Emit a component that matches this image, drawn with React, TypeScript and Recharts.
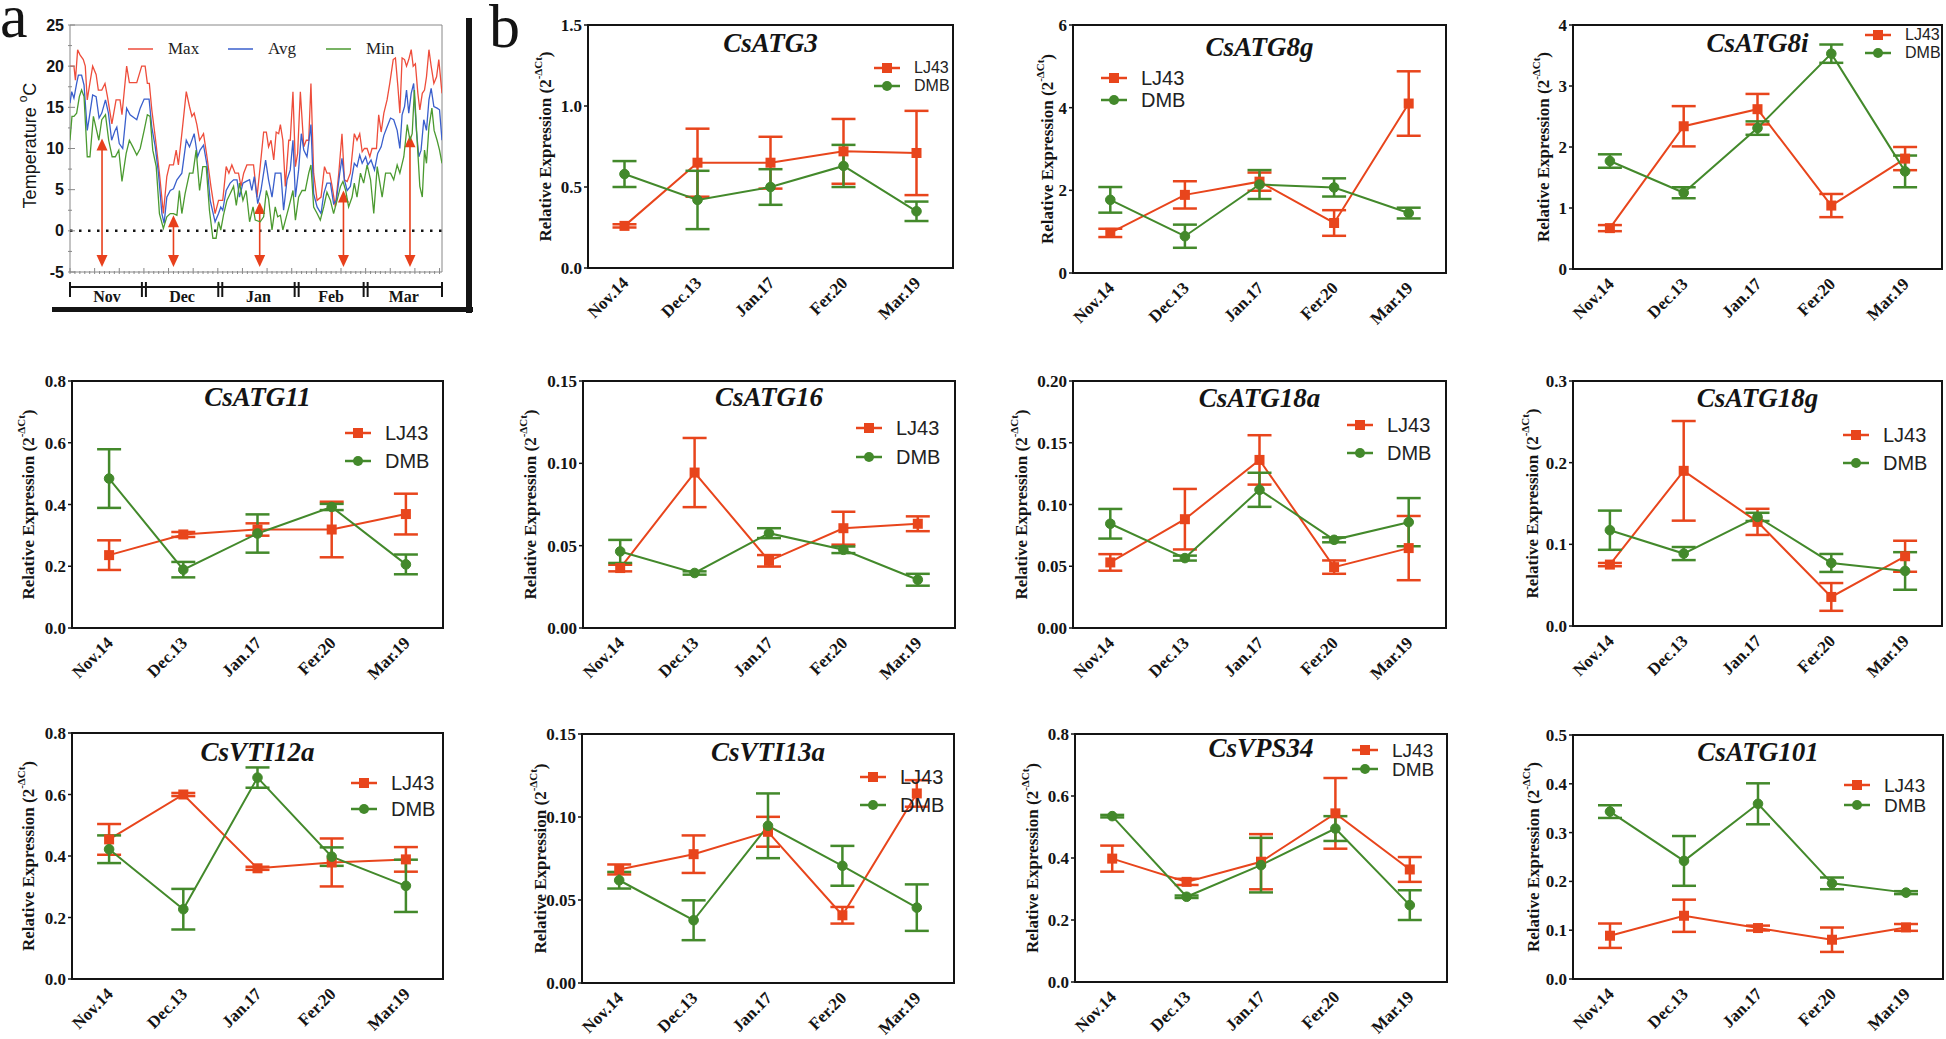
import React from "react";
import {
  LineChart,
  Line,
  XAxis,
  YAxis,
  ErrorBar,
  ReferenceArea,
  ReferenceLine,
  Legend,
} from "recharts";

const SERIF = '"Liberation Serif", "Times New Roman", serif';
const SANS = '"Liberation Sans", Arial, sans-serif';
const INK = "#141414";
const RED = "#e8451c";
const GREEN = "#43892b";
const MAX_C = "#ee4d3b";
const AVG_C = "#3a5fcc";
const MIN_C = "#4b9a30";

// ---------- panel a: daily temperature, day 0 = Nov 1 ----------
const MONTHS = ["Nov", "Dec", "Jan", "Feb", "Mar"];
const MONTH_EDGES = [0, 30, 61, 92, 120, 151];
const MONTH_MIDS = [15, 45.5, 76.5, 106, 135.5];
const TEMP_TICKS = [-5, -2.5, 0, 2.5, 5, 7.5, 10, 12.5, 15, 17.5, 20, 22.5, 25];
const SAMPLE_DAYS = [13, 42, 77, 111, 138];
const SAMPLE_TOPS = [11.2, 1.9, 3.5, 4.9, 11.6];
const SAMPLE_FLOOR = -4.4;

const MAX_T: [number, number][] = [
  [0, 20], [1.6, 20], [2.2, 18.3], [3.1, 22], [4, 21.4], [5.4, 20.8], [6.2, 20], [7, 15.9], [8.1, 18], [9.2, 20],
  [10.6, 19], [11.5, 17.1], [12.9, 17.1], [14.2, 17.9], [15.2, 16.3], [17, 13], [18.7, 15.9], [20.3, 15.9], [21.1, 14.1],
  [23, 20], [24.1, 18], [27.1, 18], [29.1, 20], [30.5, 20], [31.4, 17.9], [32.2, 17.9], [33.2, 14.7], [34.6, 11.4],
  [36.3, 7], [37.9, 2.1], [39.3, 6.6], [40.4, 8], [42, 8], [43.1, 9.8], [44, 8], [45.4, 11.8], [47.2, 16.9], [48.5, 15.1],
  [49.5, 13.9], [50.4, 14.3], [51.5, 12.9], [52.6, 11], [54.2, 11.8], [55.6, 9], [57.2, 5.4], [58.9, 2.1], [60.3, 3.7],
  [62, 3.7], [63.4, 7.8], [64.5, 7], [65.7, 8], [67, 7], [68.4, 7], [69.4, 5.4], [70.5, 7], [71.8, 8], [74.5, 8],
  [75.9, 4.1], [77.2, 7.8], [78.6, 12], [79.7, 12], [80.6, 10.2], [81.6, 11], [82.7, 8.6], [83.7, 12], [84.7, 11.8],
  [85.4, 12.9], [86.4, 11], [87.4, 5.4], [88.8, 11], [89.4, 11], [90.5, 16.9], [91.5, 7.8], [92.4, 9.4], [93.5, 16.9],
  [94.9, 10.2], [95.9, 11], [96.9, 11], [97.8, 17.9], [98.9, 7], [100.3, 3.7], [101.9, 4.1], [103.3, 7.8], [104.3, 7],
  [105.4, 7], [106.4, 5.4], [107.7, 2.9], [109.1, 7], [110.4, 11.8], [111.4, 6.2], [112.5, 6], [113.8, 7], [115.4, 11.8],
  [116.5, 11], [117.6, 11.8], [118.6, 9.6], [119.5, 10], [120.6, 10], [121.7, 9], [122.6, 10], [124.4, 10], [125.3, 14.1],
  [126.3, 12], [127.4, 14.3], [128.7, 15.9], [129.8, 17.9], [131.2, 20.8], [132.1, 21], [133.1, 17.5], [133.9, 14.3],
  [134.8, 21], [135.8, 20.8], [136.6, 20], [137.5, 20.8], [138.5, 22], [139.3, 20], [140.2, 20.3], [141.2, 16.7],
  [142, 14.7], [143, 16.7], [143.9, 17.1], [144.7, 18.7], [145.7, 22], [146.6, 20], [147.7, 17.9], [148.8, 18.7],
  [149.7, 20.8], [151, 16.7],
];

const AVG_T: [number, number][] = [
  [0, 15.5], [0.7, 16.9], [1.6, 16.1], [2.7, 17.9], [3.4, 18.9], [4.7, 18.9], [5.7, 17.7], [7, 12.2], [7.9, 13.9],
  [9.2, 16.5], [10.6, 16.3], [11.8, 13.7], [12.9, 14.3], [14.4, 15.9], [15.6, 14.3], [16.9, 11], [18.3, 12.2], [19, 12.6],
  [20, 10.6], [21.4, 10], [23, 14.9], [24.4, 14.1], [27.1, 13.5], [28.5, 14.9], [30.1, 16], [32.1, 16], [33.2, 12.6],
  [34.6, 10.2], [35.9, 7], [37.3, 2.1], [38.2, 0.9], [39.3, 4.1], [40.7, 4.9], [42, 5.1], [43.4, 6.2], [45.4, 7],
  [47.2, 11], [48.5, 10.2], [50.4, 11.8], [51.8, 9], [52.8, 9.8], [54.2, 10.4], [55.6, 8], [56.9, 3.7], [58.9, 1.1],
  [60.3, 2.1], [61.2, 2.9], [62, 2.5], [63.4, 4.9], [65, 5.8], [66.4, 6.2], [67.8, 6.2], [68.8, 4.1], [70.2, 5.8],
  [71.5, 6], [72.9, 6.2], [73.8, 4.9], [74.8, 6.6], [76.2, 3.3], [77.5, 4.9], [79.4, 8.6], [80.6, 6.2], [82, 4.1],
  [83.3, 7], [84.7, 7], [85.6, 7], [86.7, 2.5], [88.1, 6.2], [89.4, 7.4], [90.5, 11], [91.5, 4.1], [92.8, 7.4],
  [93.9, 11.8], [94.9, 9.8], [96.2, 9], [97.8, 12.9], [98.9, 4.5], [100.3, 2.9], [101.9, 2.1], [103, 4.5], [104.3, 5.8],
  [105.7, 5.8], [107, 3.3], [108.1, 3.7], [109.5, 7], [110.4, 8.8], [111.4, 6.2], [112.5, 4.9], [113.8, 5.4],
  [115.4, 8.2], [116.5, 7.8], [117.6, 9.2], [118.6, 8.2], [120, 9], [120.9, 8], [122.2, 8.6], [123.6, 7.4], [124.9, 9.4],
  [126.3, 10.2], [127.4, 11.6], [128.7, 12.6], [130.1, 13.7], [131.4, 13.5], [132.8, 12.2], [133.9, 10], [134.8, 14.1],
  [135.8, 15.1], [136.6, 17.1], [137.5, 14.3], [138.5, 16.7], [139.5, 17.9], [140.6, 12.2], [141.6, 9], [142.5, 9.8],
  [143.6, 13.5], [144.7, 12.2], [145.7, 15.9], [146.6, 17.3], [147.7, 15.1], [149, 14.9], [150, 14.7], [151, 11],
];

const MIN_T: [number, number][] = [
  [0, 11], [0.8, 13.9], [1.6, 13.9], [2.7, 14.3], [3.8, 16.3], [4.7, 17.1], [5.7, 16.3], [7, 9], [8.1, 9], [9.5, 13.9],
  [10.8, 12.2], [11.7, 11], [12.9, 13.5], [14.4, 14.1], [15.7, 11], [17.1, 9], [18.4, 9], [19.8, 9.8], [21.1, 6],
  [22.8, 9.4], [24.1, 11], [25.5, 10.2], [27.1, 9.2], [28.5, 10], [30.1, 12.2], [31.4, 14.1], [32.5, 13.9], [33.6, 9.8],
  [35, 7.8], [36.3, 2.1], [37.9, 0.3], [39.3, 1.7], [40.7, 2.1], [42, 2.1], [43.4, 1.9], [44.4, 4.9], [45.4, 2.1],
  [46.7, 4.5], [48.5, 7], [49.9, 7], [51.2, 9.8], [52.6, 4.9], [53.9, 7.8], [55.3, 7.8], [56.6, 2.5], [58, -0.9],
  [59.3, -0.9], [60.3, 1.1], [61.2, 0.1], [62.3, 1.9], [63.7, 3.7], [65, 4.5], [66.4, 5.4], [67.5, 3.1], [68.8, 5.8],
  [70.2, 3.7], [71.5, 4.9], [72.9, 1.1], [74.3, 2.9], [75.2, 1.3], [77.2, 1.1], [78.6, 1.7], [79.7, 4.9], [80.6, 3.9],
  [82, 0.1], [83.3, 2.9], [84.3, 1.7], [85.4, 1.9], [86.4, 0.1], [87.8, 1.7], [89.2, 3.3], [90.5, 4.9], [91.5, 1.3],
  [92.8, 4.1], [94.2, 4.9], [95.5, 4.9], [96.9, 7], [97.8, 8], [98.9, 2.9], [100.3, 2.1], [101.6, 1.3], [103, 2.9],
  [104.3, 4.7], [105.7, 3.7], [107, 2.1], [108.4, 3.7], [109.8, 5.4], [110.8, 6], [111.9, 4.9], [113.1, 2.9],
  [114.5, 4.1], [115.4, 5.8], [116.5, 4.1], [117.9, 7], [119.2, 5.8], [120.6, 8], [122, 6.2], [123.3, 2.1], [124.7, 7.8],
  [126, 5.4], [126.7, 4.1], [128.1, 7], [130.1, 7], [131.4, 6.2], [132.8, 8], [133.9, 7], [135.5, 9], [136.9, 12.9],
  [138, 11], [138.9, 11.8], [139.8, 17.1], [140.9, 11], [142, 5.4], [143, 4.1], [143.9, 9.8], [144.7, 8.2],
  [145.7, 12.6], [146.9, 14.9], [147.8, 12.2], [149, 11], [150, 9.8], [151, 8.2],
];

// ---------- panel b: relative expression ----------
const CATEGORIES = ["Nov.14", "Dec.13", "Jan.17", "Fer.20", "Mar.19"];
const SERIES = ["LJ43", "DMB"];

const ATG3_LJ43 = [0.26, 0.65, 0.65, 0.72, 0.71];
const ATG3_LJ43_SE = [0.01, 0.21, 0.16, 0.2, 0.26];
const ATG3_DMB = [0.58, 0.42, 0.5, 0.63, 0.35];
const ATG3_DMB_SE = [0.08, 0.18, 0.11, 0.13, 0.06];

const ATG8G_LJ43 = [0.97, 1.89, 2.21, 1.21, 4.1];
const ATG8G_LJ43_SE = [0.1, 0.33, 0.22, 0.31, 0.78];
const ATG8G_DMB = [1.77, 0.89, 2.14, 2.07, 1.45];
const ATG8G_DMB_SE = [0.31, 0.28, 0.35, 0.22, 0.13];

const ATG8I_LJ43 = [0.67, 2.34, 2.62, 1.04, 1.81];
const ATG8I_LJ43_SE = [0.05, 0.33, 0.25, 0.19, 0.19];
const ATG8I_DMB = [1.77, 1.25, 2.31, 3.53, 1.6];
const ATG8I_DMB_SE = [0.11, 0.09, 0.11, 0.15, 0.26];

const ATG11_LJ43 = [0.236, 0.303, 0.319, 0.319, 0.369];
const ATG11_LJ43_SE = [0.048, 0.008, 0.02, 0.09, 0.066];
const ATG11_DMB = [0.484, 0.189, 0.306, 0.392, 0.206];
const ATG11_DMB_SE = [0.095, 0.025, 0.062, 0.01, 0.032];

const ATG16_LJ43 = [0.0364, 0.0944, 0.0408, 0.0606, 0.0633];
const ATG16_LJ43_SE = [0.002, 0.021, 0.0035, 0.01, 0.0045];
const ATG16_DMB = [0.0465, 0.0334, 0.0576, 0.0475, 0.0293];
const ATG16_DMB_SE = [0.007, 0.001, 0.003, 0.002, 0.0036];

const ATG18A_LJ43 = [0.0531, 0.0881, 0.1361, 0.0493, 0.0647];
const ATG18A_LJ43_SE = [0.0067, 0.0245, 0.02, 0.0054, 0.026];
const ATG18A_DMB = [0.0844, 0.0566, 0.1119, 0.0714, 0.0857];
const ATG18A_DMB_SE = [0.012, 0.002, 0.0138, 0.002, 0.0195];

const ATG18G_LJ43 = [0.0752, 0.19, 0.1275, 0.0356, 0.0854];
const ATG18G_LJ43_SE = [0.002, 0.061, 0.016, 0.017, 0.019];
const ATG18G_DMB = [0.1173, 0.0887, 0.1336, 0.0772, 0.0674];
const ATG18G_DMB_SE = [0.024, 0.008, 0.005, 0.011, 0.023];

const VTI12A_LJ43 = [0.454, 0.6, 0.36, 0.379, 0.389];
const VTI12A_LJ43_SE = [0.05, 0.005, 0.005, 0.078, 0.04];
const VTI12A_DMB = [0.422, 0.227, 0.655, 0.398, 0.303];
const VTI12A_DMB_SE = [0.045, 0.066, 0.033, 0.03, 0.085];

const VTI13A_LJ43 = [0.0684, 0.0776, 0.0911, 0.0408, 0.1142];
const VTI13A_LJ43_SE = [0.003, 0.0113, 0.009, 0.005, 0.008];
const VTI13A_DMB = [0.0619, 0.0378, 0.0947, 0.0706, 0.0454];
const VTI13A_DMB_SE = [0.005, 0.012, 0.0195, 0.012, 0.014];

const VPS34_LJ43 = [0.398, 0.323, 0.388, 0.544, 0.363];
const VPS34_LJ43_SE = [0.042, 0.01, 0.089, 0.114, 0.04];
const VPS34_DMB = [0.535, 0.275, 0.377, 0.495, 0.248];
const VPS34_DMB_SE = [0.004, 0.004, 0.088, 0.04, 0.048];

const ATG101_LJ43 = [0.0887, 0.1296, 0.1044, 0.0805, 0.1057];
const ATG101_LJ43_SE = [0.025, 0.033, 0.005, 0.025, 0.007];
const ATG101_DMB = [0.343, 0.242, 0.359, 0.196, 0.177];
const ATG101_DMB_SE = [0.013, 0.051, 0.042, 0.012, 0.003];

const TICKS_15 = [0, 0.5, 1, 1.5];
const TICKS_6 = [0, 2, 4, 6];
const TICKS_4 = [0, 1, 2, 3, 4];
const TICKS_08 = [0, 0.2, 0.4, 0.6, 0.8];
const TICKS_015 = [0, 0.05, 0.1, 0.15];
const TICKS_020 = [0, 0.05, 0.1, 0.15, 0.2];
const TICKS_03 = [0, 0.1, 0.2, 0.3];
const TICKS_05 = [0, 0.1, 0.2, 0.3, 0.4, 0.5];

const GENES = [
  { title: "CsATG3", lj: ATG3_LJ43, ljSe: ATG3_LJ43_SE, dmb: ATG3_DMB, dmbSe: ATG3_DMB_SE, ticks: TICKS_15, dec: 1 },
  { title: "CsATG8g", lj: ATG8G_LJ43, ljSe: ATG8G_LJ43_SE, dmb: ATG8G_DMB, dmbSe: ATG8G_DMB_SE, ticks: TICKS_6, dec: 0 },
  { title: "CsATG8i", lj: ATG8I_LJ43, ljSe: ATG8I_LJ43_SE, dmb: ATG8I_DMB, dmbSe: ATG8I_DMB_SE, ticks: TICKS_4, dec: 0 },
  { title: "CsATG11", lj: ATG11_LJ43, ljSe: ATG11_LJ43_SE, dmb: ATG11_DMB, dmbSe: ATG11_DMB_SE, ticks: TICKS_08, dec: 1 },
  { title: "CsATG16", lj: ATG16_LJ43, ljSe: ATG16_LJ43_SE, dmb: ATG16_DMB, dmbSe: ATG16_DMB_SE, ticks: TICKS_015, dec: 2 },
  { title: "CsATG18a", lj: ATG18A_LJ43, ljSe: ATG18A_LJ43_SE, dmb: ATG18A_DMB, dmbSe: ATG18A_DMB_SE, ticks: TICKS_020, dec: 2 },
  { title: "CsATG18g", lj: ATG18G_LJ43, ljSe: ATG18G_LJ43_SE, dmb: ATG18G_DMB, dmbSe: ATG18G_DMB_SE, ticks: TICKS_03, dec: 1 },
  { title: "CsVTI12a", lj: VTI12A_LJ43, ljSe: VTI12A_LJ43_SE, dmb: VTI12A_DMB, dmbSe: VTI12A_DMB_SE, ticks: TICKS_08, dec: 1 },
  { title: "CsVTI13a", lj: VTI13A_LJ43, ljSe: VTI13A_LJ43_SE, dmb: VTI13A_DMB, dmbSe: VTI13A_DMB_SE, ticks: TICKS_015, dec: 2 },
  { title: "CsVPS34", lj: VPS34_LJ43, ljSe: VPS34_LJ43_SE, dmb: VPS34_DMB, dmbSe: VPS34_DMB_SE, ticks: TICKS_08, dec: 1 },
  { title: "CsATG101", lj: ATG101_LJ43, ljSe: ATG101_LJ43_SE, dmb: ATG101_DMB, dmbSe: ATG101_DMB_SE, ticks: TICKS_05, dec: 1 },
];

// plot box of each small chart on the page, plus label / legend placement
const LAYOUT = [
  { left: 588, top: 25, w: 365, h: 243, labelDx: 43, titleY: 18, lgX: 286, lgY: 43, lgGap: 18, lgSize: 16 },
  { left: 1073, top: 25, w: 373, h: 248, labelDx: 26, titleY: 22, lgX: 28, lgY: 53, lgGap: 22, lgSize: 20 },
  { left: 1573, top: 25, w: 369, h: 244, labelDx: 30, titleY: 18, lgX: 292, lgY: 10, lgGap: 18, lgSize: 16 },
  { left: 72, top: 381, w: 371, h: 247, labelDx: 44, titleY: 16, lgX: 273, lgY: 52, lgGap: 28, lgSize: 20 },
  { left: 583, top: 381, w: 372, h: 247, labelDx: 53, titleY: 16, lgX: 273, lgY: 47, lgGap: 29, lgSize: 20 },
  { left: 1073, top: 381, w: 373, h: 247, labelDx: 52, titleY: 17, lgX: 274, lgY: 44, lgGap: 28, lgSize: 20 },
  { left: 1573, top: 381, w: 369, h: 245, labelDx: 41, titleY: 17, lgX: 270, lgY: 54, lgGap: 28, lgSize: 20 },
  { left: 72, top: 733, w: 371, h: 246, labelDx: 44, titleY: 19, lgX: 279, lgY: 50, lgGap: 26, lgSize: 20 },
  { left: 582, top: 734, w: 372, h: 249, labelDx: 42, titleY: 18, lgX: 278, lgY: 43, lgGap: 28, lgSize: 20 },
  { left: 1075, top: 734, w: 372, h: 248, labelDx: 43, titleY: 14, lgX: 277, lgY: 16, lgGap: 19, lgSize: 19 },
  { left: 1573, top: 735, w: 370, h: 244, labelDx: 40, titleY: 17, lgX: 271, lgY: 50, lgGap: 20, lgSize: 19 },
];

const YW = 70;
const XH = 70;
const MT = 10;
const MR = 4;

const XTick = (p: any) => {
  const x = p.x + 5;
  const y = p.y + 14;
  return (
    <text
      x={x}
      y={y}
      transform={`rotate(-45, ${x}, ${y})`}
      textAnchor="end"
      fontFamily={SERIF}
      fontWeight="bold"
      fontSize={17}
      fill={INK}
    >
      {CATEGORIES[p.payload.value - 1]}
    </text>
  );
};

const SquareDot = (p: any) => (
  <rect key={`sq-${p.index}`} x={p.cx - 5} y={p.cy - 5} width={10} height={10} fill={RED} />
);

const yLabel = (dx: number) => (p: any) => {
  const vb = p.viewBox;
  const x = vb.x + vb.width - dx;
  const y = vb.y + vb.height / 2;
  return (
    <text
      x={x}
      y={y}
      transform={`rotate(-90, ${x}, ${y})`}
      textAnchor="middle"
      dominantBaseline="central"
      fontFamily={SERIF}
      fontWeight="bold"
      fontSize={17}
      fill={INK}
    >
      Relative Expression (2
      <tspan dy={-7} fontSize={11}>
        -ΔCt
      </tspan>
      <tspan dy={7}>)</tspan>
    </text>
  );
};

const titleLabel = (title: string, dy: number) => (p: any) => {
  const vb = p.viewBox;
  return (
    <text
      x={vb.x + vb.width / 2}
      y={vb.y + dy}
      textAnchor="middle"
      dominantBaseline="central"
      fontFamily={SERIF}
      fontStyle="italic"
      fontWeight="bold"
      fontSize={27}
      fill={INK}
    >
      {title}
    </text>
  );
};

const GeneLegend = ({ size, gap }: { size: number; gap: number }) => (
  <div style={{ fontFamily: SANS, fontSize: size, color: "#222" }}>
    {SERIES.map((s, i) => (
      <div key={s} style={{ display: "flex", alignItems: "center", height: gap, whiteSpace: "nowrap" }}>
        <svg width={26} height={12} style={{ marginRight: 14, flex: "none" }}>
          <line x1={0} x2={26} y1={6} y2={6} stroke={i === 0 ? RED : GREEN} strokeWidth={2.5} />
          {i === 0 ? (
            <rect x={8} y={1} width={10} height={10} fill={RED} />
          ) : (
            <circle cx={13} cy={6} r={5} fill={GREEN} />
          )}
        </svg>
        <span style={{ lineHeight: `${Math.min(gap, size)}px` }}>{s}</span>
      </div>
    ))}
  </div>
);

function GeneChart({ gene, lay }: { gene: (typeof GENES)[number]; lay: (typeof LAYOUT)[number] }) {
  const data = CATEGORIES.map((c, i) => ({
    x: i + 1,
    name: c,
    lj: gene.lj[i],
    ljSe: gene.ljSe[i],
    dmb: gene.dmb[i],
    dmbSe: gene.dmbSe[i],
  }));
  const yMax = gene.ticks[gene.ticks.length - 1];
  return (
    <div style={{ position: "absolute", left: lay.left - YW, top: lay.top - MT }}>
      <LineChart
        width={YW + lay.w + MR}
        height={MT + lay.h + XH}
        data={data}
        margin={{ top: MT, right: MR, bottom: 0, left: 0 }}
      >
        <XAxis
          type="number"
          dataKey="x"
          domain={[0.5, 5.5]}
          ticks={[1, 2, 3, 4, 5]}
          interval={0}
          height={XH}
          axisLine={false}
          tickLine={false}
          tickSize={0}
          tick={XTick}
          allowDataOverflow
        />
        <YAxis
          type="number"
          domain={[0, yMax]}
          ticks={gene.ticks}
          interval={0}
          width={YW}
          axisLine={false}
          tickSize={4}
          tickMargin={2}
          stroke={INK}
          tickLine={{ stroke: INK, strokeWidth: 1.5 }}
          tick={{ fontFamily: SERIF, fontWeight: 700, fontSize: 17, fill: INK }}
          tickFormatter={(v: number) => v.toFixed(gene.dec)}
          label={yLabel(lay.labelDx)}
          allowDataOverflow
        />
        <ReferenceArea
          x1={0.5}
          x2={5.5}
          y1={0}
          y2={yMax}
          fill="none"
          fillOpacity={0}
          stroke={INK}
          strokeWidth={2}
          ifOverflow="visible"
          label={titleLabel(gene.title, lay.titleY)}
        />
        <Legend
          layout="vertical"
          align="center"
          verticalAlign="middle"
          wrapperStyle={{ left: YW + lay.lgX, top: MT + lay.lgY - lay.lgGap / 2, width: 120 }}
          content={() => <GeneLegend size={lay.lgSize} gap={lay.lgGap} />}
        />
        <Line
          dataKey="lj"
          name="LJ43"
          stroke={RED}
          strokeWidth={2}
          dot={SquareDot}
          activeDot={false}
          isAnimationActive={false}
        >
          <ErrorBar dataKey="ljSe" width={12} strokeWidth={2.5} stroke={RED} direction="y" isAnimationActive={false} />
        </Line>
        <Line
          dataKey="dmb"
          name="DMB"
          stroke={GREEN}
          strokeWidth={2}
          dot={{ r: 4.8, fill: GREEN, stroke: GREEN, strokeWidth: 1 }}
          activeDot={false}
          isAnimationActive={false}
        >
          <ErrorBar dataKey="dmbSe" width={12} strokeWidth={2.5} stroke={GREEN} direction="y" isAnimationActive={false} />
        </Line>
      </LineChart>
    </div>
  );
}

// ---------- panel a helpers ----------
const DAY_TICKS = Array.from({ length: 76 }, (_, i) => i * 2);
const MONTH_TICKS = [...MONTH_EDGES, ...MONTH_MIDS].sort((a, b) => a - b);

const DayTick = (p: any) => {
  const v = p.payload.value;
  const len = v % 10 === 0 ? 6 : 3;
  return <line x1={p.x} x2={p.x} y1={p.y} y2={p.y - len} stroke="#888" strokeWidth={1} />;
};

const MonthTick = (p: any) => {
  const v = p.payload.value;
  const e = MONTH_EDGES.indexOf(v);
  if (e >= 0) {
    const inner = e > 0 && e < MONTH_EDGES.length - 1;
    return (
      <g>
        {inner ? (
          <>
            <line x1={p.x - 2} x2={p.x - 2} y1={p.y - 7} y2={p.y + 8} stroke={INK} strokeWidth={2} />
            <line x1={p.x + 2} x2={p.x + 2} y1={p.y - 7} y2={p.y + 8} stroke={INK} strokeWidth={2} />
          </>
        ) : (
          <line x1={p.x} x2={p.x} y1={p.y - 7} y2={p.y + 8} stroke={INK} strokeWidth={2} />
        )}
      </g>
    );
  }
  const m = MONTH_MIDS.indexOf(v);
  return (
    <text x={p.x} y={p.y + 13} textAnchor="middle" fontFamily={SERIF} fontWeight="bold" fontSize={16} fill={INK}>
      {MONTHS[m]}
    </text>
  );
};

const TempTick = (p: any) => {
  const v = p.payload.value;
  const major = v % 5 === 0;
  return (
    <g>
      <line x1={p.x} x2={p.x + (major ? 7 : 4)} y1={p.y} y2={p.y} stroke="#888" strokeWidth={1} />
      {major && (
        <text
          x={p.x - 4}
          y={p.y}
          textAnchor="end"
          dominantBaseline="central"
          fontFamily={SANS}
          fontWeight="bold"
          fontSize={16}
          fill={INK}
        >
          {v}
        </text>
      )}
    </g>
  );
};

const tempLabel = (p: any) => {
  const vb = p.viewBox;
  const x = 30;
  const y = vb.y + vb.height / 2 - 3;
  return (
    <text
      x={x}
      y={y}
      transform={`rotate(-90, ${x}, ${y})`}
      textAnchor="middle"
      dominantBaseline="central"
      fontFamily={SANS}
      fontSize={18}
      fill={INK}
    >
      Temperature{" "}
      <tspan dy={-7} fontSize={12}>
        o
      </tspan>
      <tspan dy={7}>C</tspan>
    </text>
  );
};

const ArrowShape = (p: any) => {
  const x = p.x1;
  const top = Math.min(p.y1, p.y2);
  const bot = Math.max(p.y1, p.y2);
  const c = "#e8401c";
  return (
    <g>
      <line x1={x} x2={x} y1={top + 6} y2={bot - 6} stroke={c} strokeWidth={1.6} />
      <polygon points={`${x},${top} ${x - 5.5},${top + 12} ${x + 5.5},${top + 12}`} fill={c} />
      <polygon points={`${x},${bot} ${x - 5.5},${bot - 12} ${x + 5.5},${bot - 12}`} fill={c} />
    </g>
  );
};

const TEMP_SERIES = [
  { name: "Max", color: MAX_C, rows: MAX_T },
  { name: "Avg", color: AVG_C, rows: AVG_T },
  { name: "Min", color: MIN_C, rows: MIN_T },
];

const TempLegend = () => (
  <div style={{ position: "relative", height: 20, fontFamily: SERIF, fontSize: 17, color: "#222" }}>
    {TEMP_SERIES.map((s, i) => (
      <div
        key={s.name}
        style={{ position: "absolute", left: [0, 100, 198][i], top: 0, display: "flex", alignItems: "center", height: 20 }}
      >
        <svg width={25} height={4} style={{ marginRight: 15 }}>
          <line x1={0} x2={25} y1={2} y2={2} stroke={s.color} strokeWidth={1.5} />
        </svg>
        <span>{s.name}</span>
      </div>
    ))}
  </div>
);

function TempChart() {
  return (
    <div style={{ position: "absolute", left: 0, top: 0 }}>
      <LineChart width={480} height={320} margin={{ top: 25, right: 38, left: 0, bottom: 0 }}>
        <XAxis
          type="number"
          dataKey="d"
          domain={[0, 151]}
          ticks={DAY_TICKS}
          interval={0}
          height={15}
          axisLine={false}
          tickLine={false}
          tickSize={0}
          tick={DayTick}
          allowDataOverflow
        />
        <XAxis
          xAxisId="month"
          type="number"
          dataKey="d"
          domain={[0, 151]}
          ticks={MONTH_TICKS}
          interval={0}
          height={33}
          axisLine={{ stroke: INK, strokeWidth: 2 }}
          tickLine={false}
          tickSize={0}
          tick={MonthTick}
          allowDataOverflow
        />
        <YAxis
          type="number"
          domain={[-5, 25]}
          ticks={TEMP_TICKS}
          interval={0}
          width={70}
          axisLine={false}
          tickLine={false}
          tickSize={0}
          tick={TempTick}
          label={tempLabel}
          allowDataOverflow
        />
        <ReferenceArea
          x1={0}
          x2={151}
          y1={-5}
          y2={25}
          fill="none"
          fillOpacity={0}
          stroke="#888"
          strokeWidth={1}
          ifOverflow="visible"
        />
        <ReferenceLine y={0} stroke={INK} strokeDasharray="2.5 6.5" strokeWidth={2.5} />
        {SAMPLE_DAYS.map((d, i) => (
          <ReferenceLine
            key={d}
            segment={[
              { x: d, y: SAMPLE_FLOOR },
              { x: d, y: SAMPLE_TOPS[i] },
            ]}
            shape={ArrowShape}
            ifOverflow="visible"
          />
        ))}
        {TEMP_SERIES.map((s) => (
          <Line
            key={s.name}
            data={s.rows.map(([d, t]) => ({ d, t }))}
            dataKey="t"
            name={s.name}
            stroke={s.color}
            strokeWidth={1.3}
            dot={false}
            activeDot={false}
            isAnimationActive={false}
          />
        ))}
        <Legend
          layout="vertical"
          align="center"
          verticalAlign="middle"
          wrapperStyle={{ left: 128, top: 39, width: 300 }}
          content={() => <TempLegend />}
        />
      </LineChart>
    </div>
  );
}

const panelLetter = (left: number, top: number): React.CSSProperties => ({
  position: "absolute",
  left,
  top,
  fontFamily: SERIF,
  fontSize: 62,
  lineHeight: "30px",
  height: 30,
  color: INK,
});

export default function App() {
  return (
    <div
      style={{
        position: "absolute",
        left: 0,
        top: 0,
        width: 1946,
        height: 1039,
        overflow: "hidden",
        background: "#fff",
      }}
    >
      <TempChart />
      <div style={{ position: "absolute", left: 52, top: 307, width: 421, height: 5, background: INK }} />
      <div style={{ position: "absolute", left: 466, top: 18, width: 6, height: 295, background: INK }} />
      {GENES.map((g, i) => (
        <GeneChart key={g.title} gene={g} lay={LAYOUT[i]} />
      ))}
      <div style={panelLetter(0, 1)}>a</div>
      <div style={panelLetter(489, 11)}>b</div>
    </div>
  );
}
